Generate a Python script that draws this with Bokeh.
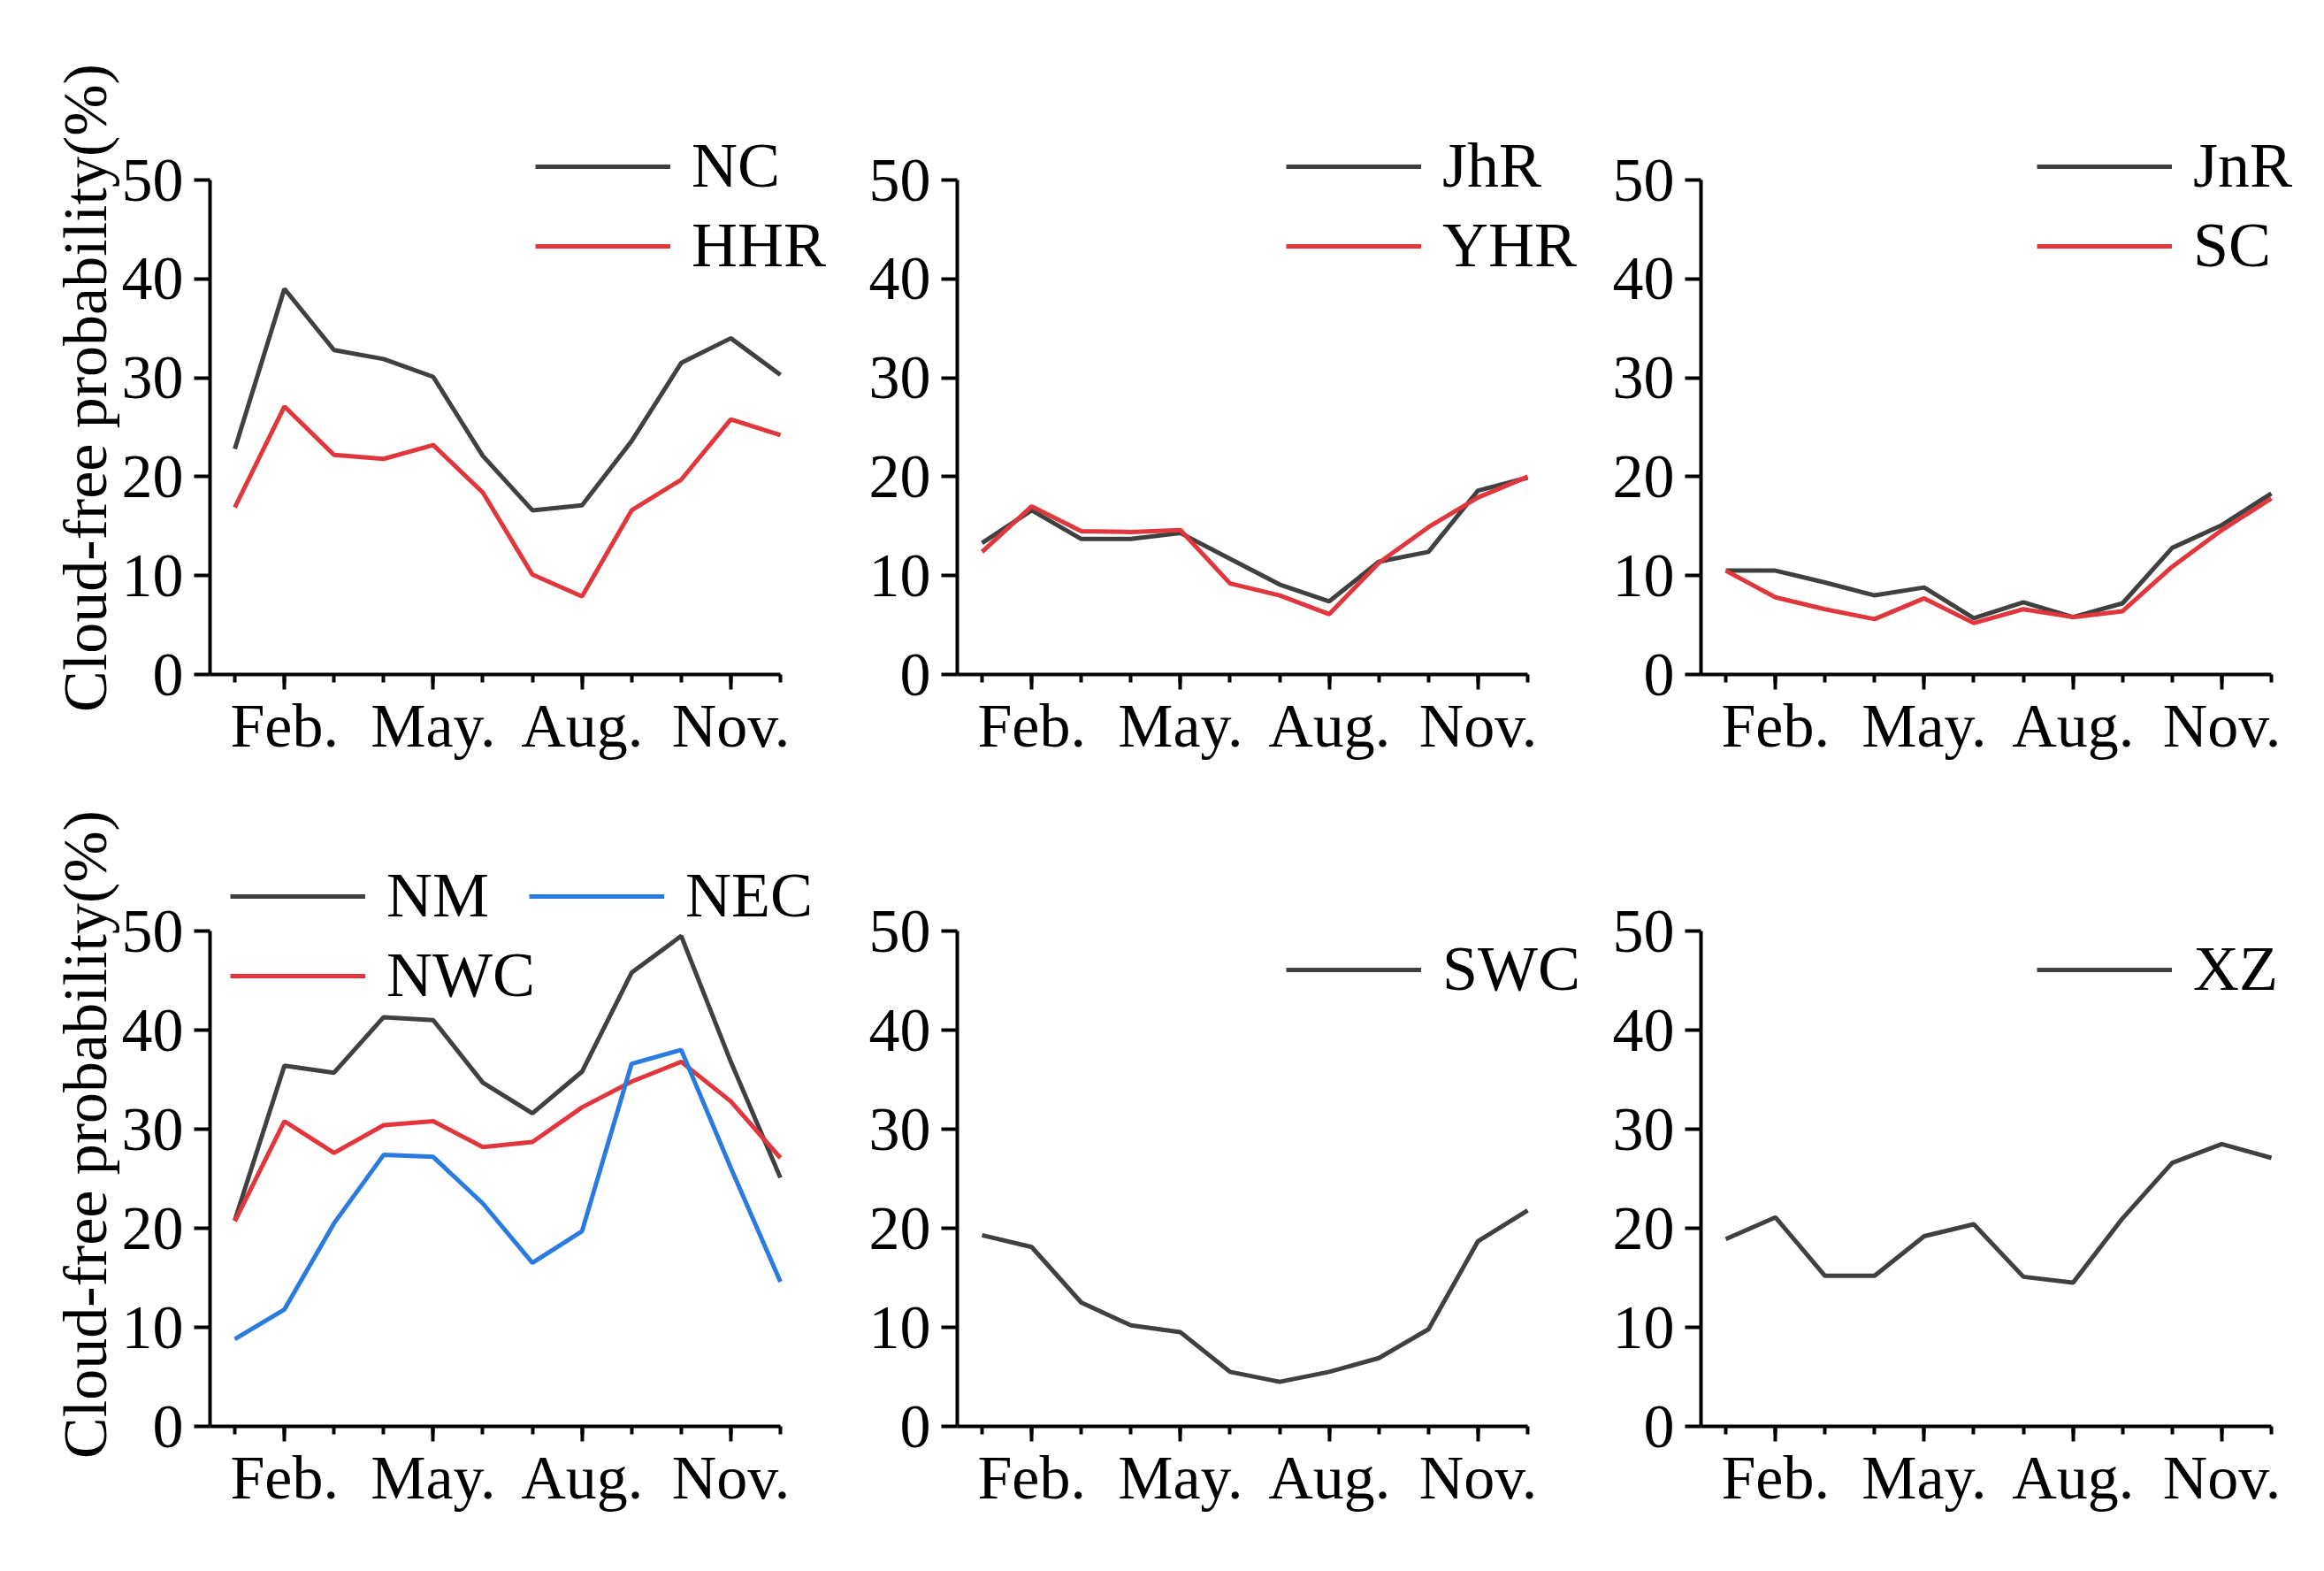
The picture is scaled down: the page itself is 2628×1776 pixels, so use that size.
from bokeh.plotting import figure
from bokeh.layouts import column, row
from bokeh.models import FixedTicker, Legend, LegendItem, Range1d
from bokeh.embed import file_html
from bokeh.resources import INLINE

months = [1, 2, 3, 4, 5, 6, 7, 8, 9, 10, 11, 12]
tick_months = [2, 5, 8, 11]
tick_labels = ["Feb.", "May.", "Aug.", "Nov."]
y_ticks = [0, 10, 20, 30, 40, 50]
y_title = "Cloud-free probability(%)"

NC = [22.8, 39.0, 32.8, 31.9, 30.1, 22.1, 16.6, 17.1, 23.6, 31.5, 34.0, 30.3]
HHR = [16.9, 27.1, 22.2, 21.8, 23.2, 18.4, 10.1, 7.9, 16.6, 19.7, 25.8, 24.2]
JhR = [13.3, 16.6, 13.7, 13.7, 14.3, 11.7, 9.1, 7.4, 11.4, 12.4, 18.6, 19.9]
YHR = [12.4, 17.0, 14.5, 14.4, 14.6, 9.2, 8.0, 6.1, 11.3, 14.9, 17.9, 20.0]
JnR = [10.5, 10.5, 9.3, 8.0, 8.8, 5.7, 7.3, 5.8, 7.2, 12.8, 15.1, 18.3]
SC = [10.5, 7.8, 6.6, 5.6, 7.7, 5.2, 6.6, 5.8, 6.4, 10.9, 14.6, 17.8]
NM = [20.8, 36.4, 35.7, 41.3, 41.0, 34.7, 31.6, 35.8, 45.8, 49.5, 36.8, 25.1]
NWC = [20.7, 30.8, 27.6, 30.4, 30.8, 28.2, 28.7, 32.2, 34.8, 36.8, 32.8, 27.1]
NEC = [8.8, 11.8, 20.5, 27.4, 27.2, 22.5, 16.5, 19.7, 36.6, 38.0, 26.1, 14.6]
SWC = [19.3, 18.1, 12.5, 10.2, 9.5, 5.5, 4.5, 5.5, 6.9, 9.8, 18.7, 21.8]
XZ = [18.9, 21.1, 15.2, 15.2, 19.2, 20.4, 15.1, 14.5, 21.0, 26.6, 28.5, 27.1]

GRAY = "#404040"
RED = "#e0363c"
BLUE = "#2a7be0"
FONT = "Liberation Serif"
LW = 5

AXW = 645          # pixel length of the drawn x axis (0.5 .. 12)
X0, X1, Y0, Y1 = 0.5, 12, 0, 50


def make_fig(L, R, T, B, ext_right, axis_h, ext_top, title=False):
    fw = AXW + ext_right
    fh = axis_h + ext_top
    xmax = X1 + ext_right * (X1 - X0) / AXW
    ymax = Y1 + ext_top * (Y1 - Y0) / axis_h
    p = figure(width=L + fw + R, height=T + fh + B,
               x_range=Range1d(X0, xmax), y_range=Range1d(Y0, ymax),
               output_backend="svg", toolbar_location=None,
               min_border_left=L, min_border_right=R,
               min_border_top=T, min_border_bottom=B)
    p.xgrid.visible = False
    p.ygrid.visible = False
    p.outline_line_color = None
    p.background_fill_color = "white"
    p.border_fill_color = "white"
    xa = p.xaxis[0]
    xa.ticker = FixedTicker(ticks=tick_months, minor_ticks=months)
    xa.major_label_overrides = {m: lab for m, lab in zip(tick_months, tick_labels)}
    xa.bounds = (X0, X1)
    ya = p.yaxis[0]
    ya.ticker = FixedTicker(ticks=y_ticks, minor_ticks=[])
    ya.bounds = (Y0, Y1)
    for ax in (xa, ya):
        ax.axis_line_width = 4
        ax.axis_line_color = "black"
        ax.major_tick_line_width = 4
        ax.major_tick_line_color = "black"
        ax.minor_tick_line_width = 4
        ax.minor_tick_line_color = "black"
        ax.major_tick_in = 0
        ax.minor_tick_in = 0
        ax.major_label_text_font = FONT
        ax.major_label_text_font_size = "70px"
        ax.major_label_text_color = "black"
    xa.major_tick_out = 17
    xa.minor_tick_out = 9
    xa.major_label_standoff = 2
    ya.major_tick_out = 18
    ya.minor_tick_out = 0
    ya.major_label_standoff = 12
    if title:
        ya.axis_label = y_title
        ya.axis_label_text_font = FONT
        ya.axis_label_text_font_size = "70px"
        ya.axis_label_text_font_style = "normal"
        ya.axis_label_text_color = "black"
        ya.axis_label_standoff = 0
    return p


def add_legend(p, items, x, y):
    leg = Legend(items=[LegendItem(label=n, renderers=[r]) for n, r in items],
                 location=(x, y), label_text_font=FONT,
                 label_text_font_size="72px", label_text_color="black",
                 glyph_width=153, glyph_height=40, label_standoff=24,
                 spacing=7, padding=0, margin=0,
                 border_line_alpha=0, background_fill_alpha=0)
    p.add_layout(leg)


# borders (pixels)
L1, R1, L2, R2, L3, R3 = 237, 9, 125, 5, 125, 3
E1, E2, E3 = 66, 66, 36
T1, B1, T2, B2 = 114, 130, 60, 130
H1, H2 = 559, 560
ET1, ET2 = 89, 100

p1 = make_fig(L1, R1, T1, B1, E1, H1, ET1, title=True)
r_nc = p1.line(months, NC, line_color=GRAY, line_width=LW)
r_hhr = p1.line(months, HHR, line_color=RED, line_width=LW)
add_legend(p1, [("NC", r_nc), ("HHR", r_hhr)], 368, 443)

p2 = make_fig(L2, R2, T1, B1, E2, H1, ET1)
r_jhr = p2.line(months, JhR, line_color=GRAY, line_width=LW)
r_yhr = p2.line(months, YHR, line_color=RED, line_width=LW)
add_legend(p2, [("JhR", r_jhr), ("YHR", r_yhr)], 372, 443)

p3 = make_fig(L3, R3, T1, B1, E3, H1, ET1)
r_jnr = p3.line(months, JnR, line_color=GRAY, line_width=LW)
r_sc = p3.line(months, SC, line_color=RED, line_width=LW)
add_legend(p3, [("JnR", r_jnr), ("SC", r_sc)], 380, 443)

p4 = make_fig(L1, R1, T2, B2, E1, H2, ET2, title=True)
r_nm = p4.line(months, NM, line_color=GRAY, line_width=LW)
r_nwc = p4.line(months, NWC, line_color=RED, line_width=LW)
r_nec = p4.line(months, NEC, line_color=BLUE, line_width=LW)
add_legend(p4, [("NM", r_nm), ("NWC", r_nwc)], 23, 468)
add_legend(p4, [("NEC", r_nec)], 361, 558)

p5 = make_fig(L2, R2, T2, B2, E2, H2, ET2)
r_swc = p5.line(months, SWC, line_color=GRAY, line_width=LW)
add_legend(p5, [("SWC", r_swc)], 372, 475)

p6 = make_fig(L3, R3, T2, B2, E3, H2, ET2)
r_xz = p6.line(months, XZ, line_color=GRAY, line_width=LW)
add_legend(p6, [("XZ", r_xz)], 380, 475)

layout = column(row(p1, p2, p3, spacing=0), row(p4, p5, p6, spacing=0), spacing=0)

open("out.html", "w").write(file_html(layout, INLINE))
